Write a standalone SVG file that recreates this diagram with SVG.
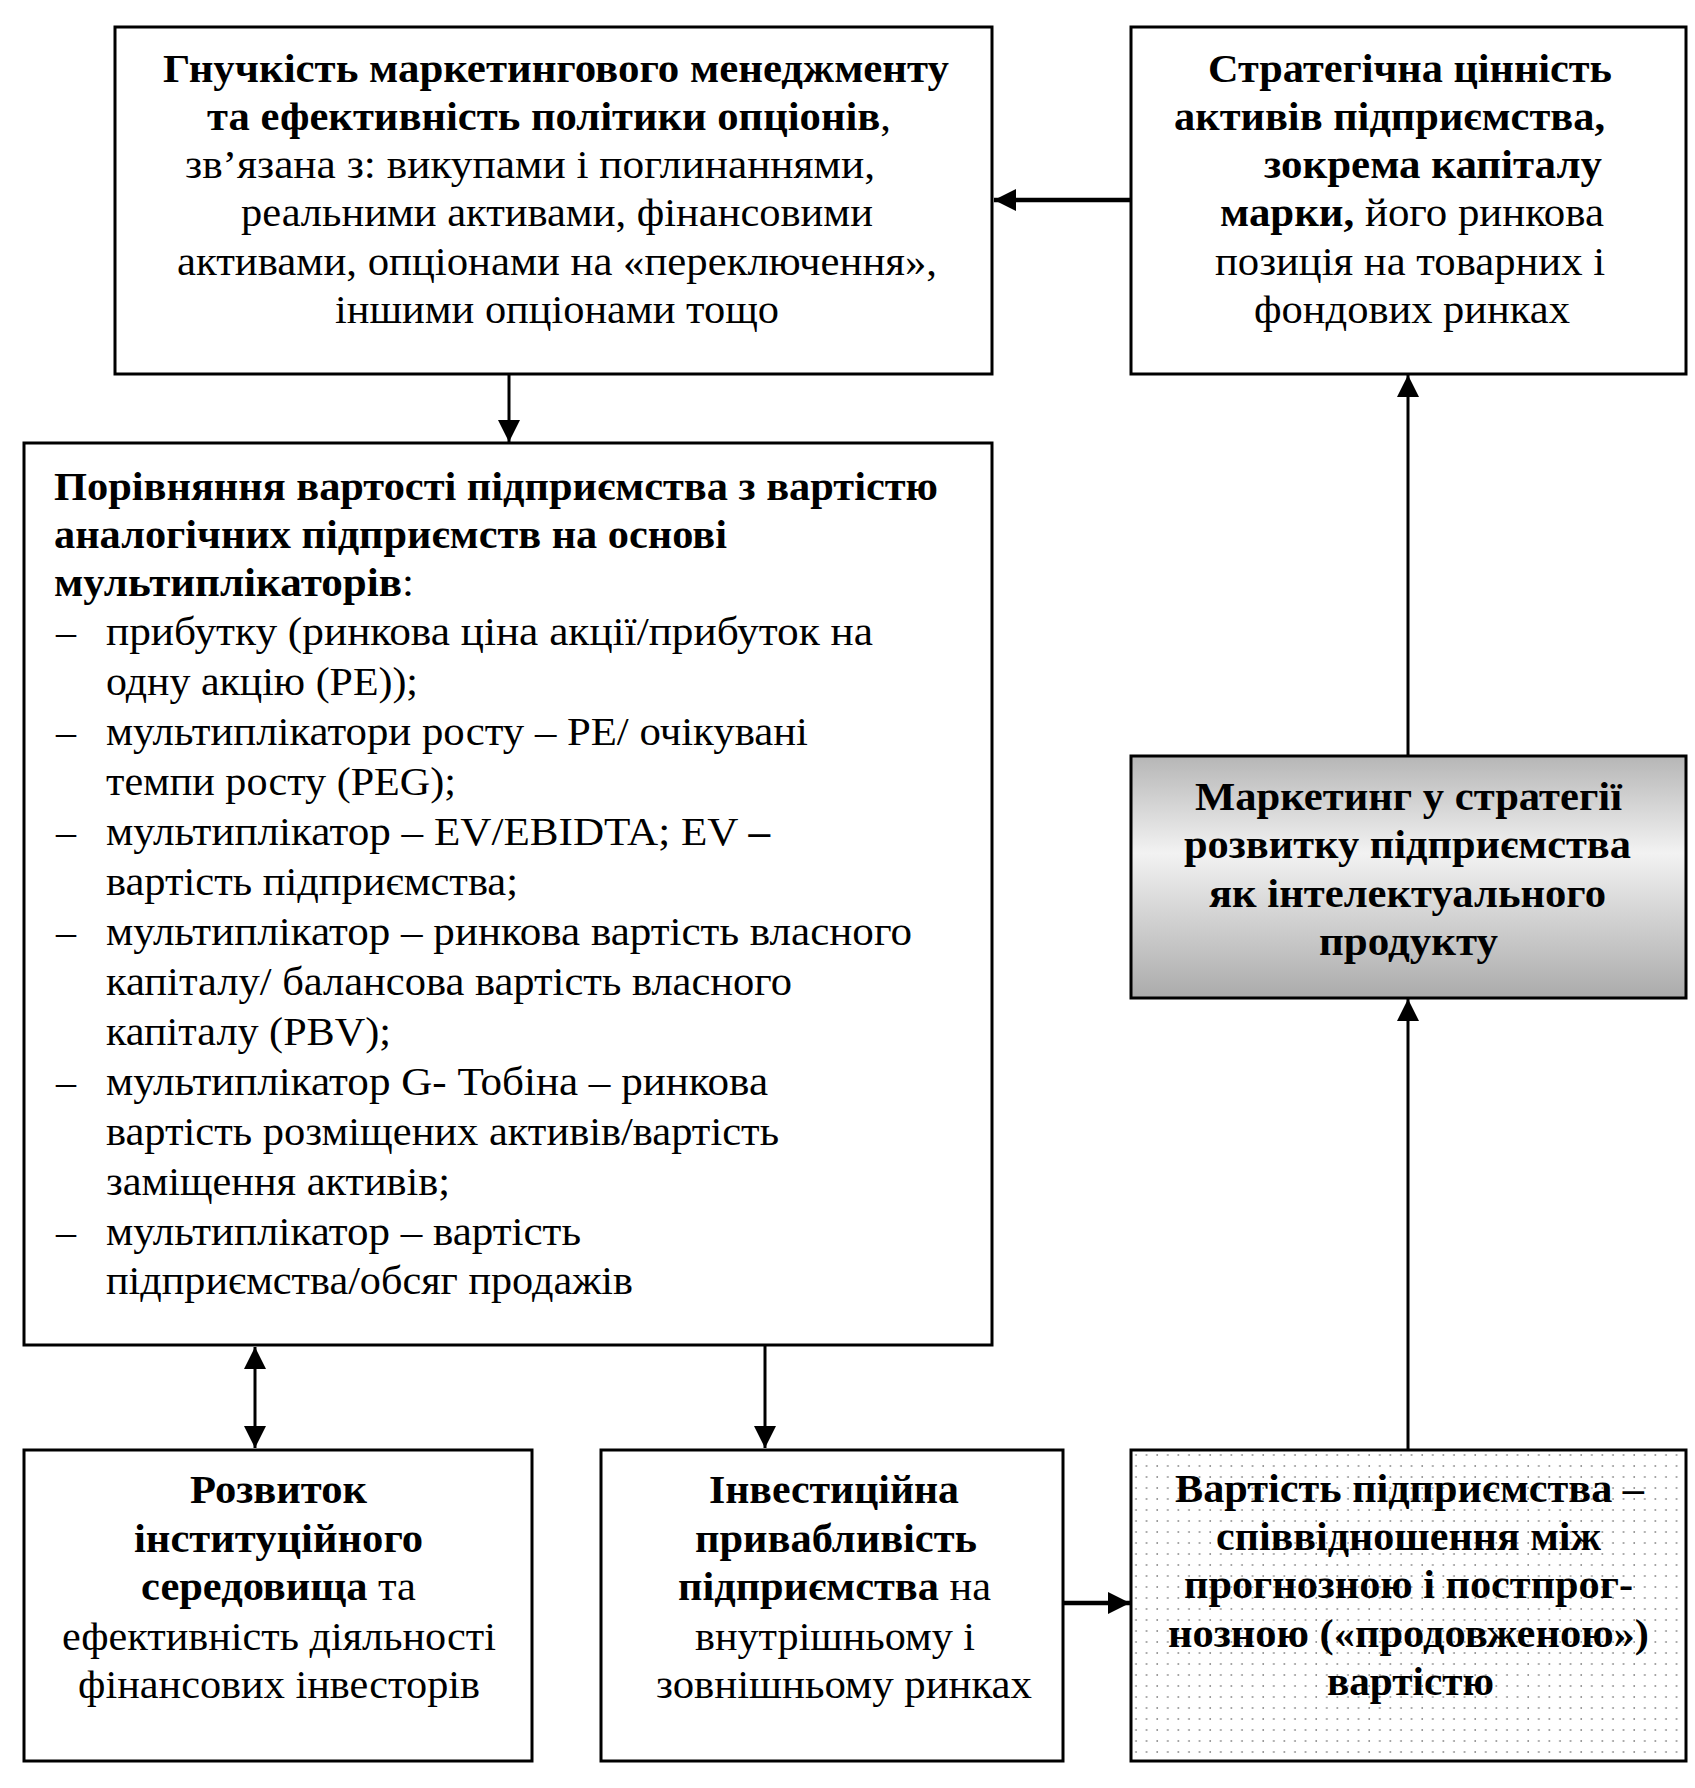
<svg xmlns="http://www.w3.org/2000/svg" width="1695" height="1788" viewBox="0 0 1695 1788">
<defs>
<style>
text { font-family: "Liberation Serif", "Times New Roman", serif; font-size: 40px; fill: #000; }
.b { font-weight: bold; }
.box { fill: #fff; stroke: #000; stroke-width: 3; }
.conn { stroke: #000; stroke-width: 3; fill: none; }
.thick { stroke-width: 4.5; }
</style>
<marker id="ah" markerUnits="userSpaceOnUse" markerWidth="24" markerHeight="22" refX="22" refY="11" orient="auto-start-reverse" viewBox="0 0 24 22">
<path d="M0,0 L22,11 L0,22 z" fill="#000"/>
</marker>
<linearGradient id="g4" x1="0" y1="0" x2="0" y2="1">
<stop offset="0" stop-color="#b6b6b6"/>
<stop offset="0.4" stop-color="#f2f2f2"/>
<stop offset="1" stop-color="#ababab"/>
</linearGradient>
<pattern id="dots" patternUnits="userSpaceOnUse" x="1131" y="1450" width="10.6" height="11">
<circle cx="5" cy="5" r="0.9" fill="#8a8a8a"/>
</pattern>
</defs>
<rect width="1695" height="1788" fill="#fff"/>

<g id="connectors">
<line class="conn thick" x1="1131" y1="200" x2="994" y2="200" marker-end="url(#ah)"/>
<line class="conn" x1="509" y1="374" x2="509" y2="442" marker-end="url(#ah)"/>
<line class="conn" x1="1408" y1="755" x2="1408" y2="375" marker-end="url(#ah)"/>
<line class="conn" x1="1408" y1="1449" x2="1408" y2="999" marker-end="url(#ah)"/>
<line class="conn" x1="255" y1="1347" x2="255" y2="1448" marker-start="url(#ah)" marker-end="url(#ah)"/>
<line class="conn" x1="765" y1="1345" x2="765" y2="1448" marker-end="url(#ah)"/>
<line class="conn thick" x1="1062" y1="1603" x2="1130" y2="1603" marker-end="url(#ah)"/>
</g>

<g id="node-flexibility">
<rect class="box" x="115" y="27" width="877" height="347"/>
<text x="163" y="82" textLength="786" lengthAdjust="spacingAndGlyphs" class="b">Гнучкість маркетингового менеджменту</text>
<text x="207" y="130" textLength="684" lengthAdjust="spacingAndGlyphs"><tspan class="b">та ефективність політики опціонів</tspan>,</text>
<text x="185" y="178" textLength="690" lengthAdjust="spacingAndGlyphs">зв’язана  з: викупами і поглинаннями,</text>
<text x="241" y="226" textLength="632" lengthAdjust="spacingAndGlyphs">реальними активами, фінансовими</text>
<text x="177" y="275" textLength="760" lengthAdjust="spacingAndGlyphs">активами, опціонами на «переключення»,</text>
<text x="335" y="323" textLength="444" lengthAdjust="spacingAndGlyphs">іншими опціонами тощо</text>
</g>

<g id="node-strategic">
<rect class="box" x="1131" y="27" width="555" height="347"/>
<text x="1208" y="82" textLength="404" lengthAdjust="spacingAndGlyphs" class="b">Стратегічна цінність</text>
<text x="1174" y="130" textLength="431" lengthAdjust="spacingAndGlyphs" class="b">активів підприємства,</text>
<text x="1264" y="178" textLength="338" lengthAdjust="spacingAndGlyphs" class="b">зокрема  капіталу</text>
<text x="1220" y="226" textLength="384" lengthAdjust="spacingAndGlyphs"><tspan class="b">марки,</tspan> його ринкова</text>
<text x="1215" y="275" textLength="390" lengthAdjust="spacingAndGlyphs">позиція на товарних і</text>
<text x="1254" y="323" textLength="316" lengthAdjust="spacingAndGlyphs">фондових ринках</text>
</g>

<g id="node-comparison">
<rect class="box" x="24" y="443" width="968" height="902"/>
<text x="54" y="500" textLength="884" lengthAdjust="spacingAndGlyphs" class="b">Порівняння вартості підприємства з вартістю</text>
<text x="54" y="548" textLength="673" lengthAdjust="spacingAndGlyphs" class="b">аналогічних підприємств на основі</text>
<text x="54" y="596" textLength="360" lengthAdjust="spacingAndGlyphs"><tspan class="b">мультиплікаторів</tspan>:</text>
<text x="56" y="645">–</text>
<text x="106" y="645" textLength="767" lengthAdjust="spacingAndGlyphs">прибутку  (ринкова ціна акції/прибуток на</text>
<text x="106" y="695" textLength="312" lengthAdjust="spacingAndGlyphs">одну акцію (PE));</text>
<text x="56" y="745">–</text>
<text x="106" y="745" textLength="702" lengthAdjust="spacingAndGlyphs">мультиплікатори росту – PE/ очікувані</text>
<text x="106" y="795" textLength="350" lengthAdjust="spacingAndGlyphs">темпи росту (PEG);</text>
<text x="56" y="845">–</text>
<text x="106" y="845" textLength="664" lengthAdjust="spacingAndGlyphs">мультиплікатор – EV/EBIDTA; EV <tspan class="b">–</tspan></text>
<text x="106" y="895" textLength="412" lengthAdjust="spacingAndGlyphs">вартість підприємства;</text>
<text x="56" y="945">–</text>
<text x="106" y="945" textLength="806" lengthAdjust="spacingAndGlyphs">мультиплікатор – ринкова вартість власного</text>
<text x="106" y="995" textLength="686" lengthAdjust="spacingAndGlyphs">капіталу/ балансова вартість власного</text>
<text x="106" y="1045" textLength="285" lengthAdjust="spacingAndGlyphs">капіталу (PBV);</text>
<text x="56" y="1095">–</text>
<text x="106" y="1095" textLength="662" lengthAdjust="spacingAndGlyphs">мультиплікатор G- Тобіна – ринкова</text>
<text x="106" y="1145" textLength="673" lengthAdjust="spacingAndGlyphs">вартість розміщених активів/вартість</text>
<text x="106" y="1195" textLength="344" lengthAdjust="spacingAndGlyphs">заміщення активів;</text>
<text x="56" y="1245">–</text>
<text x="106" y="1245" textLength="475" lengthAdjust="spacingAndGlyphs">мультиплікатор – вартість</text>
<text x="106" y="1294" textLength="527" lengthAdjust="spacingAndGlyphs">підприємства/обсяг продажів</text>
</g>

<g id="node-marketing">
<rect x="1131" y="756" width="555" height="242" fill="url(#g4)" stroke="#000" stroke-width="3"/>
<text x="1195" y="810" textLength="427" lengthAdjust="spacingAndGlyphs" class="b">Маркетинг у стратегії</text>
<text x="1184" y="858" textLength="447" lengthAdjust="spacingAndGlyphs" class="b">розвитку підприємства</text>
<text x="1209" y="907" textLength="397" lengthAdjust="spacingAndGlyphs" class="b">як інтелектуального</text>
<text x="1319" y="955" textLength="179" lengthAdjust="spacingAndGlyphs" class="b">продукту</text>
</g>

<g id="node-institutional">
<rect class="box" x="24" y="1450" width="508" height="311"/>
<text x="190" y="1503" textLength="177" lengthAdjust="spacingAndGlyphs" class="b">Розвиток</text>
<text x="134" y="1552" textLength="289" lengthAdjust="spacingAndGlyphs" class="b">інституційного</text>
<text x="141" y="1600" textLength="275" lengthAdjust="spacingAndGlyphs"><tspan class="b">середовища</tspan> та</text>
<text x="62" y="1650" textLength="434" lengthAdjust="spacingAndGlyphs">ефективність діяльності</text>
<text x="78" y="1698" textLength="402" lengthAdjust="spacingAndGlyphs">фінансових інвесторів</text>
</g>

<g id="node-investment">
<rect class="box" x="601" y="1450" width="462" height="311"/>
<text x="709" y="1503" textLength="250" lengthAdjust="spacingAndGlyphs" class="b">Інвестиційна</text>
<text x="695" y="1552" textLength="282" lengthAdjust="spacingAndGlyphs" class="b">привабливість</text>
<text x="678" y="1600" textLength="313" lengthAdjust="spacingAndGlyphs"><tspan class="b">підприємства</tspan> на</text>
<text x="695" y="1650" textLength="280" lengthAdjust="spacingAndGlyphs">внутрішньому і</text>
<text x="656" y="1698" textLength="376" lengthAdjust="spacingAndGlyphs">зовнішньому ринках</text>
</g>

<g id="node-value">
<rect x="1131" y="1450" width="555" height="311" fill="#fff" stroke="none"/>
<rect x="1131" y="1450" width="555" height="311" fill="url(#dots)" stroke="#000" stroke-width="3"/>
<text x="1175" y="1502" textLength="469" lengthAdjust="spacingAndGlyphs" class="b">Вартість підприємства –</text>
<text x="1216" y="1550" textLength="385" lengthAdjust="spacingAndGlyphs" class="b">співвідношення між</text>
<text x="1184" y="1598" textLength="449" lengthAdjust="spacingAndGlyphs" class="b">прогнозною і постпрог-</text>
<text x="1168" y="1647" textLength="481" lengthAdjust="spacingAndGlyphs" class="b">нозною («продовженою»)</text>
<text x="1327" y="1695" textLength="167" lengthAdjust="spacingAndGlyphs" class="b">вартістю</text>
</g>
</svg>
